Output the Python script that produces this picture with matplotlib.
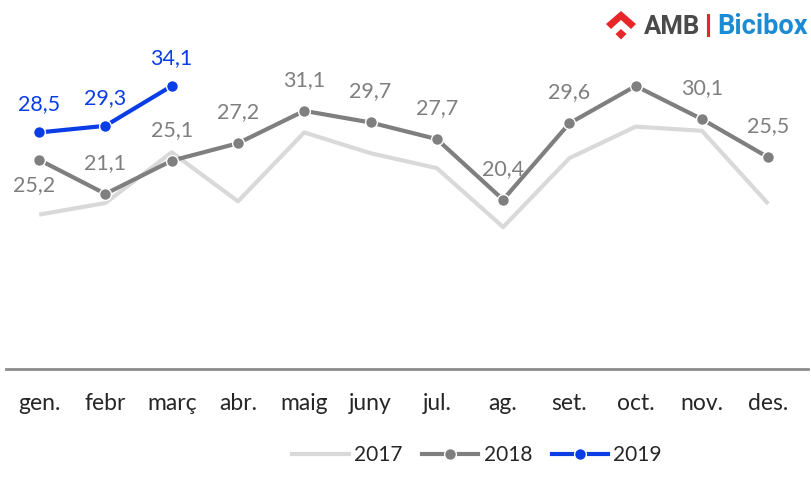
import matplotlib
matplotlib.use("Agg")
import matplotlib.pyplot as plt
from matplotlib.patches import Polygon
import matplotlib.lines as mlines

plt.rcParams['font.family'] = ['Lato', 'DejaVu Sans']

months = ["gen.", "febr", "març", "abr.", "maig", "juny", "jul.", "ag.", "set.", "oct.", "nov.", "des."]
v2017 = [18.6, 20.0, 26.1, 20.2, 28.5, 26.0, 24.2, 17.1, 25.4, 29.2, 28.7, 19.9]
v2018 = [25.2, 21.1, 25.1, 27.2, 31.1, 29.7, 27.7, 20.4, 29.6, 34.1, 30.1, 25.5]
v2019 = [28.5, 29.3, 34.1]
lab2018_show = [True, True, True, True, True, True, True, True, True, False, True, True]

C17 = "#d9d9d9"
C18 = "#7f7f7f"
C19 = "#0a3de6"

W, H = 811, 493
fig = plt.figure(figsize=(W / 100, H / 100), dpi=100)
ax = fig.add_axes([6 / W, 1 - 369 / H, 802 / W, (369 - 37) / H])

x = list(range(len(months)))
mk = dict(marker="o", ms=8.5, mec="white", mew=1)
ax.plot(x, v2017, color=C17, lw=3, solid_capstyle="butt", zorder=2, label="2017")
ax.plot(x, v2018, color=C18, lw=3, zorder=3, label="2018", **mk)
ax.plot(x[:len(v2019)], v2019, color=C19, lw=3, zorder=4, label="2019", **mk)

ax.set_xlim(-0.5, 11.6)
ax.set_ylim(0, 40)

for i, v in enumerate(v2018):
    if not lab2018_show[i]:
        continue
    off = (-5, -25) if i == 0 else (0, 31)
    ax.annotate(f"{v:.1f}".replace(".", ","), (i, v), xytext=off, textcoords="offset pixels",
                ha="center", va="center", fontsize=15.5, color=C18)
for i, v in enumerate(v2019):
    ax.annotate(f"{v:.1f}".replace(".", ","), (i, v), xytext=(0, 28), textcoords="offset pixels",
                ha="center", va="center", fontsize=15.5, color=C19)

for s in ["top", "right", "left"]:
    ax.spines[s].set_visible(False)
ax.spines["bottom"].set_color("#8c8c8c")
ax.spines["bottom"].set_linewidth(2)
ax.set_yticks([])
ax.set_xticks(x)
ax.set_xticklabels(months, fontsize=16.5, color="#262626")
ax.tick_params(axis="x", length=0, pad=17)

handles = [
    mlines.Line2D([], [], color=C17, lw=3),
    mlines.Line2D([], [], color=C18, lw=3, **mk),
    mlines.Line2D([], [], color=C19, lw=3, **mk),
]
fig.legend(handles, ["2017", "2018", "2019"], loc="center", bbox_to_anchor=(477 / W, 1 - 455 / H),
           ncol=3, frameon=False, fontsize=15, handlelength=2.7, columnspacing=0.95,
           handletextpad=0.25, labelcolor="#262626")

def fx(px):
    return px / W

def fy(py):
    return 1 - py / H

red = "#e8262a"
chev = [(606, 24), (621, 11), (636, 24), (631, 29), (621, 20), (611, 29)]
fig.patches.append(Polygon([(fx(a), fy(b)) for a, b in chev], closed=True, transform=fig.transFigure,
                           facecolor=red, edgecolor="none"))
dia = [(621, 29), (626.5, 34), (621, 39.5), (615.5, 34)]
fig.patches.append(Polygon([(fx(a), fy(b)) for a, b in dia], closed=True, transform=fig.transFigure,
                           facecolor=red, edgecolor="none"))
fig.text(fx(644), fy(27), "AMB", fontsize=18.5, fontweight="bold", family=["Roboto", "DejaVu Sans"],
         color="#4a4a4a", ha="left", va="center")
for k in range(5):
    y0 = 15 + k * 4.3
    fig.add_artist(mlines.Line2D([fx(708), fx(708)], [fy(y0), fy(y0 + 2.5)], color=red, lw=2.2,
                                 transform=fig.transFigure))
fig.text(fx(717), fy(27), "Bicibox", fontsize=19.5, fontweight="bold", family=["Roboto", "DejaVu Sans"],
         color="#1b8bd3", ha="left", va="center")

fig.savefig("out.png", dpi=100)
